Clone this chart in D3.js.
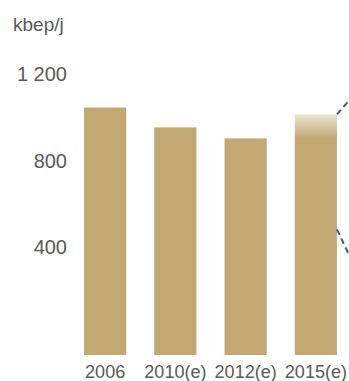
<!doctype html>
<html lang="fr">
<head>
  <meta charset="utf-8">
  <title>kbep/j - D3</title>
  <style>
    body { margin: 0; background: #fff; }
    svg { display: block; font-family: "Liberation Sans", Arial, sans-serif; }
  </style>
</head>
<body>
  <svg width="349" height="381"></svg>

  <script src="https://cdn.jsdelivr.net/npm/d3@7"></script>
  <script>
    // données
    var categories = ['2006', '2010(e)', '2012(e)', '2015(e)'];
    var values = [1047, 955, 904, 1015];
    var tickValues = [400, 800, 1200];
    var tickLabels = ['400', '800', '1 200'];
    var unitLabel = 'kbep/j';
    // lignes de renvoi (pointillés) partant de la dernière barre : [valeur départ, valeur arrivée]
    var calloutLines = [[1015, 1175], [482, 190]];

    var svg = d3.select('svg');
    var barColor = '#c2a973';
    var textColor = '#595959';

    var x = d3.scaleBand().domain(categories).range([70, 351]).paddingInner(0.4).paddingOuter(0.2);
    var y = d3.scaleLinear().domain([-100, 1200]).range([355, 74.5]);

    // dégradé sur la barre 2015(e)
    var grad = svg.append('defs').append('linearGradient')
      .attr('id', 'fade').attr('x1', 0).attr('y1', 0).attr('x2', 0).attr('y2', 1);
    grad.append('stop').attr('offset', 0).attr('stop-color', '#ebe3d2');
    grad.append('stop').attr('offset', 0.1).attr('stop-color', barColor);
    grad.append('stop').attr('offset', 1).attr('stop-color', barColor);

    svg.append('g').selectAll('rect').data(values).enter()
      .append('rect')
      .attr('x', (v, i) => x(categories[i]))
      .attr('y', v => y(v))
      .attr('width', x.bandwidth())
      .attr('height', v => y(-100) - y(v))
      .attr('fill', (v, i) => i === values.length - 1 ? 'url(#fade)' : barColor);

    // axe Y (sans ligne)
    var yAxis = svg.append('g')
      .attr('transform', 'translate(67,0)')
      .call(d3.axisLeft(y).tickValues(tickValues).tickSize(0).tickPadding(0)
        .tickFormat((d, i) => tickLabels[i]));
    yAxis.select('.domain').remove();
    yAxis.selectAll('text').attr('font-size', 20).attr('fill', textColor)
      .attr('font-family', '"Liberation Sans", Arial, sans-serif');

    // axe X (sans ligne)
    var xAxis = svg.append('g')
      .attr('transform', 'translate(0,' + y(-100) + ')')
      .call(d3.axisBottom(x).tickSize(0).tickPadding(10));
    xAxis.select('.domain').remove();
    xAxis.selectAll('text').attr('font-size', 18).attr('fill', textColor)
      .attr('font-family', '"Liberation Sans", Arial, sans-serif');

    svg.append('text')
      .attr('x', 13).attr('y', 31)
      .attr('font-size', 19).attr('fill', textColor)
      .text(unitLabel);

    // pointillés bleus vers la droite
    var last = categories[categories.length - 1];
    var xr = x(last) + x.bandwidth();
    svg.append('g').selectAll('line').data(calloutLines).enter()
      .append('line')
      .attr('x1', xr)
      .attr('y1', d => y(d[0]))
      .attr('x2', xr + 30)
      .attr('y2', d => y(d[1]))
      .attr('stroke', '#3d5b8e')
      .attr('stroke-width', 2)
      .attr('stroke-dasharray', '6,4');
  </script>
</body>
</html>
